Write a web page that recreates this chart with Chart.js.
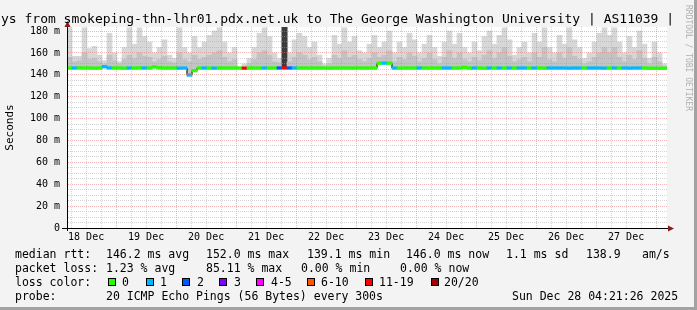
<!DOCTYPE html>
<html>
<head>
<meta charset="utf-8">
<style>
  html, body { margin: 0; padding: 0; }
  body { width: 697px; height: 310px; background: #f3f3f3; position: relative; overflow: hidden;
         font-family: 'DejaVu Sans Mono', monospace; color: #000; }
  #frame { position: absolute; left: 0; top: 0; width: 694px; height: 307px;
           border-right: 3px solid #a2a2a2; border-bottom: 3px solid #a2a2a2; }
  #wrap { position: absolute; left: 0; top: 0; width: 697px; height: 310px; }
  #title { position: absolute; left: 1px; top: 12px; font-size: 13px; line-height: 13px; white-space: pre; }
  #mark { position: absolute; left: 684px; top: 5px; writing-mode: vertical-rl; font-size: 8px;
          line-height: 8px; color: #b0b0b0; white-space: pre; }
  .t { position: absolute; white-space: pre; font-size: 11.5px; line-height: 14px; }
  .box { position: absolute; width: 8px; height: 8px; box-sizing: border-box; border: 1px solid #000; }
</style>
</head>
<body>
<div id="frame"></div>
<div id="wrap"><canvas id="rttChart" width="697" height="310"></canvas></div>
<div id="title">ys from smokeping-thn-lhr01.pdx.net.uk to The George Washington University | AS11039 |</div>
<div id="mark">RRDTOOL / TOBI OETIKER</div>

<div class="t" style="left:15px;top:247px">median rtt:</div>
<div class="t" style="left:106px;top:247px">146.2 ms avg</div>
<div class="t" style="left:206px;top:247px">152.0 ms max</div>
<div class="t" style="left:307px;top:247px">139.1 ms min</div>
<div class="t" style="left:406px;top:247px">146.0 ms now</div>
<div class="t" style="left:506px;top:247px">1.1 ms sd</div>
<div class="t" style="left:586px;top:247px">138.9</div>
<div class="t" style="left:642px;top:247px">am/s</div>

<div class="t" style="left:15px;top:261px">packet loss:</div>
<div class="t" style="left:106px;top:261px">1.23 % avg</div>
<div class="t" style="left:206px;top:261px">85.11 % max</div>
<div class="t" style="left:301px;top:261px">0.00 % min</div>
<div class="t" style="left:400px;top:261px">0.00 % now</div>

<div class="t" style="left:15px;top:275px">loss color:</div>
<div id="lossLegend"></div>

<div class="t" style="left:15px;top:289px">probe:</div>
<div class="t" style="left:106px;top:289px">20 ICMP Echo Pings (56 Bytes) every 300s</div>
<div class="t" style="left:512px;top:289px">Sun Dec 28 04:21:26 2025</div>

<script src="https://cdn.jsdelivr.net/npm/chart.js"></script>
<script>
// 10 days, 2 hour bins starting Dec 18 04:21
const binHours = 2;
const spanHours = 240;
const firstMidnight = 19.642; // hours from start to 19 Dec 00:00
const dayLabels = ['18 Dec', '19 Dec', '20 Dec', '21 Dec', '22 Dec', '23 Dec', '24 Dec', '25 Dec', '26 Dec', '27 Dec'];

// median rtt (ms) per bin
const median = [
  146.2, 146.2, 146.3, 146.2, 146.2, 146.1, 146.2, 147.4, 146.3, 146.2,
  146.2, 146.1, 146.2, 146.2, 146.3, 146.2, 146.2, 147.2, 146.4, 146.2,
  146.2, 146.2, 146.1, 146.2, 139.8, 143.8, 146.2, 146.2, 146.2, 146.1,
  146.2, 146.2, 146.2, 146.2, 146.2, 146.0, 146.2, 146.2, 146.2, 146.2,
  146.2, 146.2, 146.2, 146.3, 146.2, 146.2, 146.2, 146.2, 146.2, 146.2,
  146.2, 146.2, 146.1, 146.2, 146.2, 146.2, 146.2, 146.2, 146.2, 146.2,
  146.2, 146.2, 150.6, 150.7, 150.6, 146.2, 146.1, 146.2, 146.2, 146.2,
  146.2, 146.2, 146.2, 146.2, 146.2, 146.2, 146.2, 146.2, 146.2, 146.8,
  146.2, 146.2, 146.2, 146.1, 146.2, 146.2, 146.2, 146.2, 146.2, 146.2,
  146.2, 146.2, 146.2, 146.2, 146.2, 146.1, 146.2, 146.2, 146.2, 146.2,
  146.1, 146.2, 146.2, 146.2, 146.2, 146.2, 146.2, 146.1, 146.2, 146.2,
  146.2, 146.2, 146.1, 146.2, 146.2, 146.2, 146.0, 146.0, 146.0, 146.0
];

// lost pings out of 20 per bin
const loss = [
  0, 1, 0, 0, 0, 0, 0, 1, 1, 0,
  0, 0, 1, 0, 0, 1, 0, 0, 0, 0,
  0, 0, 1, 1, 1, 0, 0, 1, 0, 1,
  0, 0, 0, 0, 0, 12, 0, 0, 0, 1,
  0, 0, 2, 17, 2, 1, 0, 0, 0, 0,
  0, 0, 0, 0, 0, 0, 0, 0, 0, 0,
  0, 0, 0, 1, 0, 1, 0, 0, 0, 0,
  1, 0, 0, 0, 0, 1, 1, 0, 0, 0,
  0, 1, 0, 0, 1, 0, 1, 0, 1, 0,
  1, 1, 0, 1, 0, 0, 1, 1, 1, 1,
  1, 1, 1, 0, 1, 1, 1, 1, 0, 1,
  0, 1, 1, 1, 1, 0, 0, 0, 0, 0
];

// slowest ping per bin (top of smoke)
const smokeMax = [
  183, 157, 157, 183, 164, 166, 158, 153, 178, 160,
  152, 165, 183, 168, 183, 175, 170, 160, 165, 172,
  158, 155, 183, 165, 160, 175, 165, 170, 176, 180,
  183, 170, 160, 165, 146.2, 150, 155, 165, 178, 183,
  175, 160, 155, 183.7, 160, 172, 178, 175, 165, 170,
  158, 150, 155, 176, 168, 183, 170, 175, 162, 160,
  168, 176, 165, 170, 180, 160, 170, 165, 178, 172,
  160, 168, 176, 165, 157, 170, 180, 168, 178, 165,
  160, 170, 162, 175, 180, 168, 176, 183, 172, 158,
  165, 170, 160, 178, 170, 183, 165, 160, 176, 168,
  183, 172, 165, 155, 160, 170, 178, 183, 176, 183,
  170, 160, 175, 165, 180, 168, 155, 170, 160, 150
];

// 90th percentile ping per bin (denser smoke)
const smokeMid = [
  156, 152, 153, 160, 154, 155, 152, 150, 158, 153,
  150, 154, 158, 155, 160, 157, 156, 152, 154, 157,
  152, 151, 160, 154, 152, 158, 154, 156, 158, 160,
  162, 156, 152, 154, 146.2, 148, 150, 154, 160, 162,
  158, 152, 151, 183.7, 152, 156, 160, 158, 154, 156,
  152, 148, 150, 158, 155, 162, 156, 158, 154, 152,
  155, 160, 156, 158, 162, 152, 156, 154, 160, 157,
  152, 155, 160, 154, 150, 156, 162, 155, 160, 154,
  152, 156, 153, 158, 162, 155, 160, 165, 157, 152,
  154, 156, 152, 160, 156, 165, 154, 152, 160, 155,
  165, 157, 154, 150, 152, 156, 160, 165, 160, 165,
  156, 152, 158, 154, 162, 155, 150, 156, 152, 148
];

const yMax = 183.7;
const yMinorStep = 5;
const yMajorStep = 20;
const lossLimits = [0, 1, 2, 3, 5, 10, 19, 20];
const lossLabels = ['0', '1', '2', '3', '4-5', '6-10', '11-19', '20/20'];
const lossColors = ['#26ff00', '#00b8ff', '#0059ff', '#7e00ff', '#ff00ff', '#ff5500', '#ff0000', '#a10000'];

function lossColor(n) {
  for (let i = 0; i < lossLimits.length; i++) {
    if (n <= lossLimits[i]) return lossColors[i];
  }
  return lossColors[lossColors.length - 1];
}

// legend boxes
const legendBoxX = [108, 146, 182, 219, 256, 307, 365, 431];
const legendTextX = [122, 160, 197, 234, 271, 321, 379, 444];
const lossLegend = document.getElementById('lossLegend');
lossLabels.forEach((lbl, i) => {
  const b = document.createElement('div');
  b.className = 'box';
  b.style.left = legendBoxX[i] + 'px';
  b.style.top = '278px';
  b.style.background = lossColors[i];
  lossLegend.appendChild(b);
  const t = document.createElement('div');
  t.className = 't';
  t.style.left = legendTextX[i] + 'px';
  t.style.top = '275px';
  t.textContent = lbl;
  lossLegend.appendChild(t);
});

const centers = median.map((_, i) => i * binHours + binHours / 2);
const stepLine = median.map((v, i) => ({ x: i * binHours, y: v }));
stepLine.push({ x: spanHours, y: median[median.length - 1] });

const plotBg = {
  id: 'plotBg',
  beforeDraw(chart) {
    const { ctx, chartArea: a } = chart;
    ctx.save();
    ctx.fillStyle = '#ffffff';
    ctx.fillRect(a.left, a.top, a.width, a.height);
    ctx.restore();
  }
};

const axisArrows = {
  id: 'axisArrows',
  afterDraw(chart) {
    const { ctx, chartArea: a } = chart;
    ctx.save();
    ctx.strokeStyle = '#000';
    ctx.lineWidth = 1;
    ctx.beginPath();
    ctx.moveTo(a.left - 5, a.bottom + 0.5);
    ctx.lineTo(a.right + 2, a.bottom + 0.5);
    ctx.moveTo(a.left + 0.5, a.bottom + 3);
    ctx.lineTo(a.left + 0.5, a.top - 1);
    ctx.stroke();
    ctx.fillStyle = '#8b1a1a';
    ctx.beginPath();
    ctx.moveTo(a.right + 1, a.bottom - 2.5);
    ctx.lineTo(a.right + 7, a.bottom + 0.5);
    ctx.lineTo(a.right + 1, a.bottom + 3.5);
    ctx.fill();
    ctx.beginPath();
    ctx.moveTo(a.left - 2.5, a.top);
    ctx.lineTo(a.left + 0.5, a.top - 6);
    ctx.lineTo(a.left + 3.5, a.top);
    ctx.fill();
    ctx.restore();
  }
};

Chart.defaults.font.family = "'DejaVu Sans Mono', monospace";
Chart.defaults.font.size = 10;
Chart.defaults.color = '#000';

const gridRed = 'rgba(230, 110, 110, 0.5)';
const gridGray = 'rgba(160, 160, 160, 0.45)';

new Chart(document.getElementById('rttChart'), {
  type: 'bar',
  data: {
    datasets: [
      {
        label: 'smoke',
        data: centers.map((x, i) => ({ x: x, y: [median[i] - 0.6, smokeMax[i]] })),
        backgroundColor: ctx => loss[ctx.dataIndex] >= 15 ? '#4a4a4a' : '#d7d7d7',
        grouped: false, barPercentage: 1, categoryPercentage: 1, order: 4
      },
      {
        label: 'smoke dense',
        data: centers.map((x, i) => ({ x: x, y: [median[i] - 0.6, smokeMid[i]] })),
        backgroundColor: ctx => loss[ctx.dataIndex] >= 15 ? '#3c3c3c' : '#c3c3c3',
        grouped: false, barPercentage: 1, categoryPercentage: 1, order: 3
      },
      {
        type: 'line',
        label: 'median',
        data: stepLine,
        stepped: true,
        borderColor: '#000',
        borderWidth: 1,
        pointRadius: 0,
        order: 2
      },
      {
        label: 'loss',
        data: centers.map((x, i) => ({ x: x, y: [median[i] - 1.2, median[i] + 1.2] })),
        backgroundColor: ctx => lossColor(loss[ctx.dataIndex]),
        grouped: false, barPercentage: 1, categoryPercentage: 1, order: 1
      }
    ]
  },
  options: {
    responsive: false,
    animation: false,
    events: [],
    layout: { padding: { left: 0, top: 27, right: 30, bottom: 62 } },
    plugins: { legend: { display: false }, tooltip: { enabled: false } },
    scales: {
      x: {
        type: 'linear',
        min: 0,
        max: spanHours,
        offset: false,
        afterFit: s => { s.height = 20; },
        afterBuildTicks: s => {
          const t = [];
          for (let h = firstMidnight - 18; h < spanHours; h += 6) t.push({ value: h });
          s.ticks = t;
        },
        ticks: {
          autoSkip: false,
          maxRotation: 0,
          padding: 3,
          callback: (v, i) => (i % 4 === 1 ? dayLabels[(i - 1) / 4] : '')
        },
        grid: {
          offset: false,
          drawTicks: false,
          z: 1,
          color: ctx => (ctx.index % 4 === 3 ? gridRed : gridGray)
        },
        border: { color: '#000', width: 1, dash: [1, 1], z: 2 }
      },
      y: {
        min: 0,
        max: yMax,
        afterFit: s => { s.width = 67; },
        afterBuildTicks: s => {
          const t = [];
          for (let v = 0; v <= yMax; v += yMinorStep) t.push({ value: v });
          s.ticks = t;
        },
        ticks: {
          autoSkip: false,
          padding: 7,
          callback: v => (v % yMajorStep ? '' : (v === 0 ? '0' : v + ' m'))
        },
        grid: {
          drawTicks: false,
          z: 1,
          color: ctx => (ctx.tick && ctx.tick.value % yMajorStep === 0 ? gridRed : gridGray)
        },
        border: { color: '#000', width: 1, dash: [1, 1], z: 2 },
        title: {
          display: true,
          text: 'Seconds',
          font: { size: 11 },
          padding: { top: 4, bottom: 0 }
        }
      }
    }
  },
  plugins: [plotBg, axisArrows]
});
</script>
</body>
</html>
